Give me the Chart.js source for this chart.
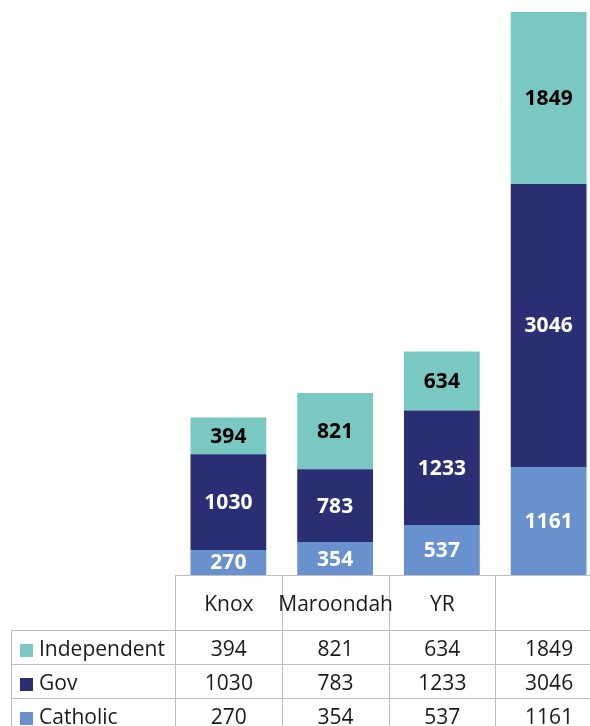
<!DOCTYPE html>
<html>
<head>
<meta charset="utf-8">
<script src="https://cdn.jsdelivr.net/npm/chart.js@4/dist/chart.umd.min.js"></script>
<style>
	body { margin: 0; width: 590px; height: 726px; overflow: hidden; background: #fff; font-family: "Open Sans", "Noto Sans", sans-serif; }
	#wrap { position: absolute; left: 0; top: 0; width: 602px; height: 576px; }
	#tbl { position: absolute; left: 11px; top: 575px; border-collapse: collapse; table-layout: fixed; font-size: 21px; color: #1a1a1a; }
	#tbl td { border: 1px solid #bfbfbf; padding: 0; text-align: center; white-space: nowrap; overflow: visible; }
	#tbl td .c { display: flex; justify-content: center; }
	#tbl tr.head td { height: 54px; }
	#tbl tr.row td { height: 33px; }
	#tbl td.blank { border-left: none; border-top: none; }
	#tbl td.name { text-align: left; padding-left: 8px; }
	.key { display: inline-block; width: 13px; height: 13px; margin-right: 6px; vertical-align: -1px; }
</style>
</head>
<body>
<div id="wrap"><canvas id="myChart" width="602" height="576"></canvas></div>
<table id="tbl"></table>
<script>
var categories = ['Knox', 'Maroondah', 'YR', ''];
var catholic = [270, 354, 537, 1161];
var gov = [1030, 783, 1233, 3046];
var independent = [394, 821, 634, 1849];

var colCatholic = '#6991cd';
var colGov = '#2a2e72';
var colIndependent = '#7ac8c2';

// labels inside each bar segment
var segmentLabels = {
	id: 'segmentLabels',
	afterDatasetsDraw: function(chart) {
		var ctx = chart.ctx;
		ctx.save();
		ctx.font = 'bold 21px "Open Sans", "Noto Sans", sans-serif';
		ctx.textAlign = 'center';
		ctx.textBaseline = 'middle';
		chart.data.datasets.forEach(function(ds, i) {
			var meta = chart.getDatasetMeta(i);
			meta.data.forEach(function(bar, j) {
				ctx.fillStyle = ds.labelColor;
				ctx.fillText(ds.data[j], bar.x, (bar.y + bar.base) / 2 + 1);
			});
		});
		ctx.restore();
	}
};

var ctx = document.getElementById('myChart').getContext('2d');
var myChart = new Chart(ctx, {
	type: 'bar',
	data: {
		labels: categories,
		datasets: [{
			label: 'Catholic',
			data: catholic,
			backgroundColor: colCatholic,
			labelColor: '#ffffff'
		}, {
			label: 'Gov',
			data: gov,
			backgroundColor: colGov,
			labelColor: '#ffffff'
		}, {
			label: 'Independent',
			data: independent,
			backgroundColor: colIndependent,
			labelColor: '#000000'
		}]
	},
	options: {
		responsive: false,
		animation: false,
		layout: { padding: { left: 175, top: 0, right: 0, bottom: 1 } },
		datasets: { bar: { categoryPercentage: 1, barPercentage: 0.71 } },
		plugins: { legend: { display: false }, tooltip: { enabled: false } },
		scales: {
			x: { stacked: true, display: false },
			y: { stacked: true, display: false, min: 0, max: 6185 }
		}
	},
	plugins: [segmentLabels]
});

// data table under the bars, built from the same arrays
var tbl = document.getElementById('tbl');
var xs = myChart.scales.x;
var colW = xs.width / categories.length;
var firstW = xs.left - 11;
tbl.style.width = (firstW + colW * categories.length) + 'px';
var html = '<colgroup><col style="width:' + firstW + 'px">';
categories.forEach(function() {
	html += '<col style="width:' + colW + 'px">';
});
html += '</colgroup><tr class="head"><td class="blank"></td>';
categories.forEach(function(c) {
	html += '<td><div class="c">' + c + '</div></td>';
});
html += '</tr>';
var rows = [
	['Independent', colIndependent, independent],
	['Gov', colGov, gov],
	['Catholic', colCatholic, catholic]
];
rows.forEach(function(r) {
	html += '<tr class="row"><td class="name"><span class="key" style="background:' + r[1] + '"></span>' + r[0] + '</td>';
	r[2].forEach(function(v) {
		html += '<td><div class="c">' + v + '</div></td>';
	});
	html += '</tr>';
});
tbl.innerHTML = html;
</script>
</body>
</html>
